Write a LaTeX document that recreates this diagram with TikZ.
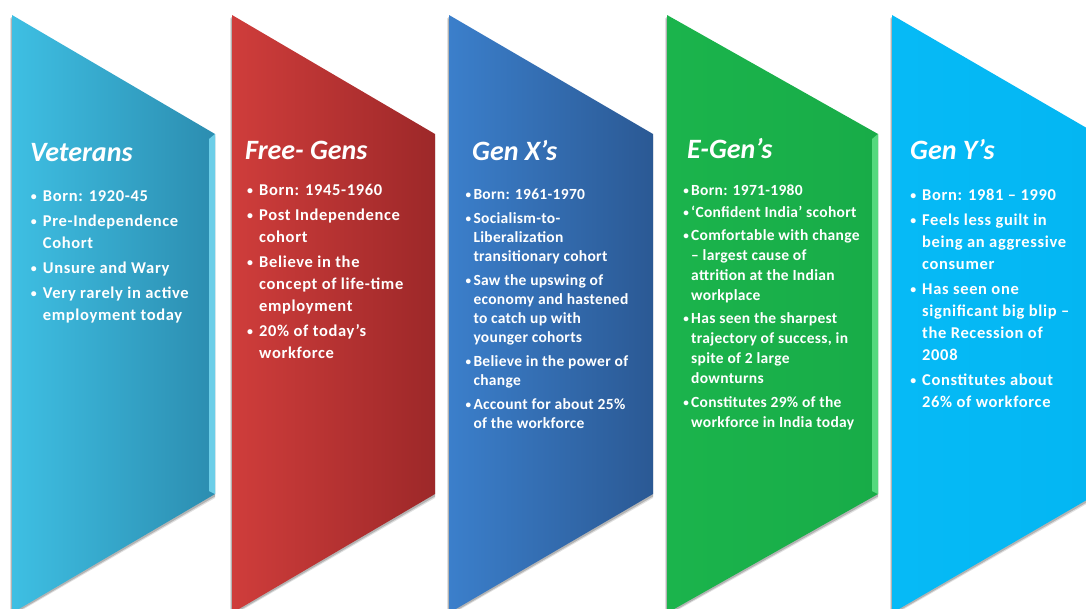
\documentclass[tikz,border=0pt]{standalone}
\usepackage{fontspec}
\setmainfont{Carlito}
\newfontfamily\wideface[LetterSpace=4]{Carlito}
\newfontfamily\narrowface[LetterSpace=2]{Carlito}
\newlength{\bw}
% small bullet centred in a box of width \bw, then the item text
\newcommand{\bl}[1]{\makebox[\bw][c]{\raisebox{0.9pt}{\scalebox{0.72}{\textbullet}}}#1\strut}
% continuation line of an item, indented to the item text
\newcommand{\ct}[1]{\hspace*{\bw}#1\strut}
\definecolor{vetL}{RGB}{62,191,227}
\definecolor{vetR}{RGB}{44,141,176}
\definecolor{vetB}{RGB}{120,218,242}
\definecolor{freeL}{RGB}{207,61,59}
\definecolor{freeR}{RGB}{157,40,41}
\definecolor{genxL}{RGB}{59,127,203}
\definecolor{genxR}{RGB}{43,89,148}
\definecolor{egenL}{RGB}{27,180,76}
\definecolor{egenR}{RGB}{24,172,72}
\definecolor{egenB}{RGB}{96,226,136}
\definecolor{genyL}{RGB}{6,186,246}
\definecolor{genyR}{RGB}{4,182,242}
\tikzset{
  cohorttitle/.style={anchor=base west, inner sep=0pt, text=white,
    font=\fontsize{28}{30}\selectfont\bfseries\itshape},
  widelist/.style={anchor=north west, inner sep=0pt, text=white, align=left,
    font=\wideface\fontsize{16.5}{22}\selectfont\bfseries\setlength{\bw}{18pt}},
  narrowlist/.style={anchor=north west, inner sep=0pt, text=white, align=left,
    font=\narrowface\fontsize{15.5}{#1}\selectfont\bfseries\setlength{\bw}{10pt}},
}
\begin{document}
\begin{tikzpicture}[x=1pt,y=-1pt]
\useasboundingbox (0,0) rectangle (1086,608);
\clip (0,0) rectangle (1086,608);
\fill[white] (0,0) rectangle (1086,608);

% chevron panels: soft shadow below-left, gradient body
\foreach \L/\R/\cl/\cr in {12/215/vetL/vetR, 232/435/freeL/freeR,
    449/653/genxL/genxR, 667/878/egenL/egenR, 892/1097/genyL/genyR}{
  \fill[black, opacity=0.12] (\L-1.8,18) -- (\R,137) -- (\R,498) -- (\L-1.8,617) -- cycle;
  \fill[black, opacity=0.2] (\L-1,17) -- (\R,136) -- (\R,496.5) -- (\L-1,615.5) -- cycle;
  \shade[left color=\cl, right color=\cr] (\L,15) -- (\R,134) -- (\R,494) -- (\L,613) -- cycle;
}
% bevelled right edges
\fill[vetB, opacity=0.85] (215,134) -- (215,494) -- (209,491) -- (209,139) -- cycle;
\fill[egenB, opacity=0.85] (878,134) -- (878,494) -- (872,491) -- (872,139) -- cycle;

% Veterans
\node[cohorttitle] (vet-title) at (30,161) {Veterans};
\node[widelist] (vet-list) at (24.7,185.6) {%
  \bl{Born: 1920-45}\\[3pt]
  \bl{Pre-Independence}\\ \ct{Cohort}\\[3pt]
  \bl{Unsure and Wary}\\[3pt]
  \bl{Very rarely in active}\\ \ct{employment today}};

% Free-Gens
\node[cohorttitle] (free-title) at (245,159) {Free- Gens};
\node[widelist] (free-list) at (241,179.6) {%
  \bl{Born: 1945-1960}\\[3pt]
  \bl{Post Independence}\\ \ct{cohort}\\[3pt]
  \bl{Believe in the}\\ \ct{concept of life-time}\\ \ct{employment}\\[3pt]
  \bl{20\% of today’s}\\ \ct{workforce}};

% Gen X's
\node[cohorttitle] (genx-title) at (472,160) {Gen X’s};
\node[narrowlist=19] (genx-list) at (463.3,185.7) {%
  \bl{Born: 1961-1970}\\[5pt]
  \bl{Socialism-to-}\\ \ct{Liberalization}\\ \ct{transitionary cohort}\\[5pt]
  \bl{Saw the upswing of}\\ \ct{economy and hastened}\\ \ct{to catch up with}\\ \ct{younger cohorts}\\[5pt]
  \bl{Believe in the power of}\\ \ct{change}\\[5pt]
  \bl{Account for about 25\%}\\ \ct{of the workforce}};

% E-Gen's
\node[cohorttitle] (egen-title) at (687,158) {E-Gen’s};
\node[narrowlist=20] (egen-list) at (681,181) {%
  \bl{Born: 1971-1980}\\[2pt]
  \bl{‘Confident India’ scohort}\\[3pt]
  \bl{Comfortable with change}\\ \ct{– largest cause of}\\ \ct{attrition at the Indian}\\ \ct{workplace}\\[3pt]
  \bl{Has seen the sharpest}\\ \ct{trajectory of success, in}\\ \ct{spite of 2 large}\\ \ct{downturns}\\[4pt]
  \bl{Constitutes 29\% of the}\\ \ct{workforce in India today}};

% Gen Y's
\node[cohorttitle] (geny-title) at (910,159) {Gen Y’s};
\node[widelist] (geny-list) at (904,184.6) {%
  \bl{Born: 1981 – 1990}\\[3pt]
  \bl{Feels less guilt in}\\ \ct{being an aggressive}\\ \ct{consumer}\\[3pt]
  \bl{Has seen one}\\ \ct{significant big blip –}\\ \ct{the Recession of}\\ \ct{2008}\\[3pt]
  \bl{Constitutes about}\\ \ct{26\% of workforce}};
\end{tikzpicture}
\end{document}
